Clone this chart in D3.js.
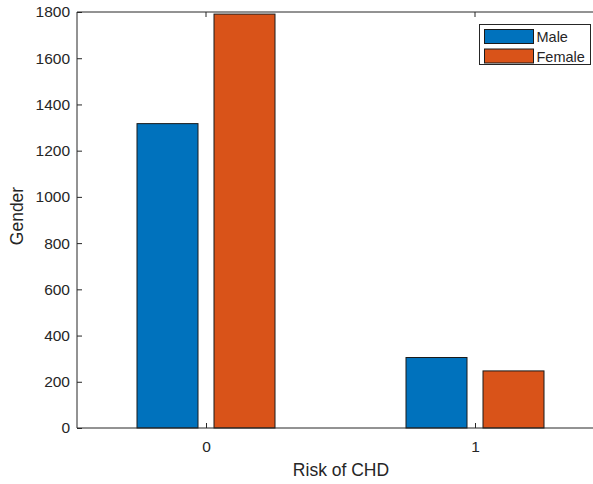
<!DOCTYPE html>
<html>
<head>
<meta charset="utf-8">
<script src="https://d3js.org/d3.v7.min.js"></script>
<style>
  body { margin: 0; background: #fff; }
  text { font-family: "Liberation Sans", Arial, sans-serif; fill: #262626; }
</style>
</head>
<body>
<div id="chart"></div>
<script>
// data
var categories = ["0", "1"];
var seriesNames = ["Male", "Female"];
var maleCounts = [1317, 305];
var femaleCounts = [1791, 247];
var yTicks = [0, 200, 400, 600, 800, 1000, 1200, 1400, 1600, 1800];
var colors = ["#0072BD", "#D95319"];

var W = 593, H = 484;
var plotLeft = 77, plotTop = 12, plotBottom = 428, plotRight = 606;

var svg = d3.select("#chart").append("svg")
  .attr("width", W).attr("height", H);

var x = d3.scaleLinear().domain([0, 1]).range([206, 475]);
var y = d3.scaleLinear().domain([0, 1800]).range([plotBottom, plotTop]);

var barW = 61, offset = 38.5;
var series = [maleCounts, femaleCounts];

// bars
series.forEach(function(vals, s) {
  svg.selectAll(".bar" + s)
    .data(vals)
    .enter().append("rect")
    .attr("x", function(d, i) { return x(i) + (s === 0 ? -offset : offset) - barW / 2; })
    .attr("y", function(d) { return y(d); })
    .attr("width", barW)
    .attr("height", function(d) { return y(0) - y(d); })
    .attr("fill", colors[s])
    .attr("stroke", "#1a1a1a")
    .attr("stroke-width", 1);
});

// box
svg.append("path")
  .attr("d", "M" + plotRight + "," + plotTop + "H" + plotLeft + "V" + plotBottom + "H" + plotRight)
  .attr("fill", "none").attr("stroke", "#262626").attr("stroke-width", 1);

// y axis
var yAxis = d3.axisLeft(y).tickValues(yTicks).tickFormat(d3.format("d"))
  .tickSizeInner(-5).tickSizeOuter(0).tickPadding(7);
var gy = svg.append("g").attr("transform", "translate(" + plotLeft + ",0)").call(yAxis);
gy.select(".domain").remove();
gy.selectAll("line").attr("stroke", "#262626");
gy.selectAll("text").style("font-size", "15.5px").style("font-family", "Liberation Sans, Arial, sans-serif").style("fill", "#262626");

// x axis
var xAxis = d3.axisBottom(x).tickValues([0, 1]).tickFormat(function(d) { return categories[d]; })
  .tickSizeInner(-5).tickSizeOuter(0).tickPadding(13);
var gx = svg.append("g").attr("transform", "translate(0," + plotBottom + ")").call(xAxis);
gx.select(".domain").remove();
gx.selectAll("line").attr("stroke", "#262626");
gx.selectAll("text").style("font-size", "15.5px").style("font-family", "Liberation Sans, Arial, sans-serif").style("fill", "#262626");

// top ticks
svg.selectAll(".ttick").data([0, 1]).enter().append("line")
  .attr("x1", function(d) { return x(d); }).attr("x2", function(d) { return x(d); })
  .attr("y1", plotTop).attr("y2", plotTop + 5).attr("stroke", "#262626");

// labels
svg.append("text").attr("x", 341).attr("y", 476).attr("text-anchor", "middle")
  .style("font-size", "17.5px").text("Risk of CHD");
svg.append("text").attr("transform", "translate(23,216) rotate(-90)")
  .attr("text-anchor", "middle").style("font-size", "17.5px").text("Gender");

// legend
var lg = svg.append("g").attr("transform", "translate(479.5,24.5)");
lg.append("rect").attr("width", 111).attr("height", 40).attr("fill", "#fff")
  .attr("stroke", "#262626").attr("stroke-width", 1);
seriesNames.forEach(function(n, i) {
  lg.append("rect").attr("x", 5).attr("y", 5 + i * 19.5).attr("width", 49).attr("height", 14)
    .attr("fill", colors[i]).attr("stroke", "#1a1a1a");
  lg.append("text").attr("x", 57).attr("y", 17.5 + i * 19.5).style("font-size", "14.5px").text(n);
});
</script>
</body>
</html>
